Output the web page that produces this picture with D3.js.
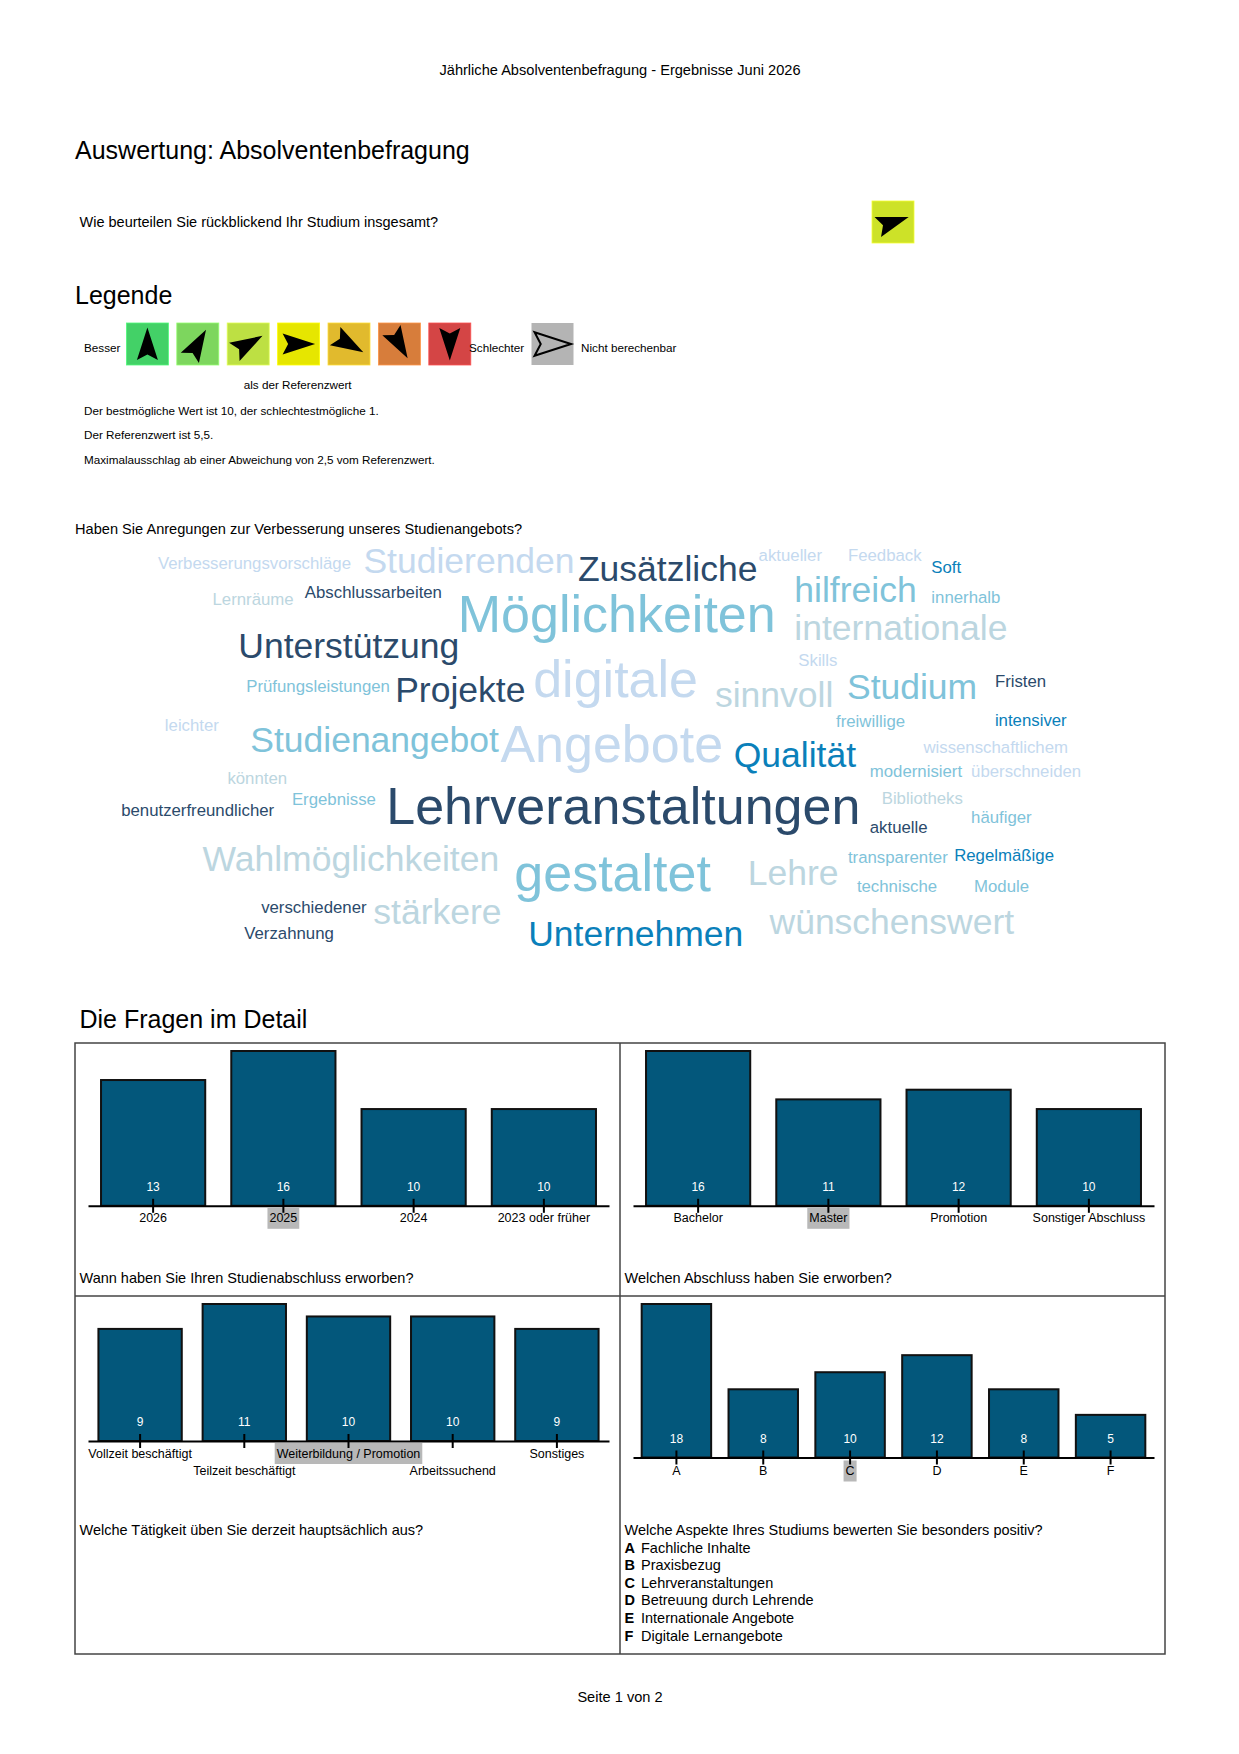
<!DOCTYPE html>
<html lang="de">
<head>
<meta charset="utf-8">
<title>Auswertung: Absolventenbefragung</title>
<script src="https://cdn.jsdelivr.net/npm/d3@7"></script>
<style>
  html, body { margin: 0; padding: 0; background: #fff; }
  svg { display: block; font-family: 'Liberation Sans', Arial, Helvetica, sans-serif; }
</style>
</head>
<body>
<div id="page"></div>
<script>
// ---- Daten ----
const pageTitle = 'Jährliche Absolventenbefragung - Ergebnisse Juni 2026';
const pageFooter = 'Seite 1 von 2';

const overallQuestion = 'Wie beurteilen Sie rückblickend Ihr Studium insgesamt?';
const overallMean = 6.0;

// Legende: Werte der sieben Stufen (Referenz 5,5, Maximalausschlag 2,5)
const legendValues = [8, 7.17, 6.33, 5.5, 4.67, 3.83, 3];
const legendColors = ['#43d167', '#7dd65e', '#bde043', '#e6e600', '#e1ba2d', '#d77d3b', '#d44545'];
const legendNotes = [
  'Der bestmögliche Wert ist 10, der schlechtestmögliche 1.',
  'Der Referenzwert ist 5,5.',
  'Maximalausschlag ab einer Abweichung von 2,5 vom Referenzwert.'
];

// Wortwolke
const cloudQuestion = 'Haben Sie Anregungen zur Verbesserung unseres Studienangebots?';
const cloudWords = [
  'Verbesserungsvorschläge', 'Studierenden', 'Zusätzliche', 'aktueller', 'Feedback', 'Soft',
  'Lernräume', 'Abschlussarbeiten', 'Möglichkeiten', 'hilfreich', 'innerhalb', 'internationale',
  'Unterstützung', 'Skills', 'Prüfungsleistungen', 'Projekte', 'digitale', 'sinnvoll',
  'Studium', 'Fristen', 'leichter', 'freiwillige', 'intensiver', 'Studienangebot',
  'Angebote', 'Qualität', 'wissenschaftlichem', 'könnten', 'modernisiert', 'überschneiden',
  'Ergebnisse', 'Lehrveranstaltungen', 'Bibliotheks', 'benutzerfreundlicher', 'häufiger', 'aktuelle',
  'Wahlmöglichkeiten', 'gestaltet', 'Lehre', 'transparenter', 'Regelmäßige', 'technische',
  'Module', 'verschiedener', 'stärkere', 'Verzahnung', 'Unternehmen', 'wünschenswert'
];
const cloudCounts = [
  1, 2, 2, 1, 1, 1,
  1, 1, 3, 2, 1, 2,
  2, 1, 1, 2, 3, 2,
  2, 1, 1, 1, 1, 2,
  3, 2, 1, 1, 1, 1,
  1, 3, 1, 1, 1, 1,
  2, 3, 2, 1, 1, 1,
  1, 1, 2, 1, 2, 2
];
const cloudTone = [
  2, 2, 0, 2, 2, 4,
  3, 0, 1, 1, 1, 3,
  0, 2, 1, 0, 2, 3,
  1, 0, 2, 1, 4, 1,
  2, 4, 2, 3, 1, 2,
  1, 0, 3, 0, 1, 0,
  3, 1, 3, 1, 4, 1,
  1, 0, 3, 0, 4, 3
];
// Platzierung der Wörter in der Wolke (relativ, 0..1)
const cloudSpots = [
  [0.059, 0.056], [0.266, 0.050], [0.482, 0.069], [0.664, 0.037], [0.754, 0.037], [0.838, 0.066],
  [0.114, 0.141], [0.207, 0.125], [0.361, 0.176], [0.700, 0.120], [0.838, 0.136], [0.700, 0.210],
  [0.140, 0.253], [0.704, 0.288], [0.148, 0.349], [0.298, 0.357], [0.437, 0.330], [0.620, 0.368],
  [0.753, 0.349], [0.902, 0.338], [0.066, 0.442], [0.742, 0.432], [0.902, 0.429], [0.152, 0.477],
  [0.404, 0.485], [0.639, 0.512], [0.830, 0.493], [0.129, 0.568], [0.776, 0.552], [0.878, 0.552],
  [0.194, 0.618], [0.289, 0.634], [0.788, 0.616], [0.022, 0.645], [0.878, 0.661], [0.776, 0.685],
  [0.104, 0.760], [0.418, 0.794], [0.653, 0.794], [0.754, 0.757], [0.861, 0.752], [0.763, 0.826],
  [0.881, 0.826], [0.163, 0.874], [0.276, 0.885], [0.146, 0.938], [0.432, 0.938], [0.675, 0.909]
];

// Fragen im Detail
const q1Question = 'Wann haben Sie Ihren Studienabschluss erworben?';
const q1Categories = ['2026', '2025', '2024', '2023 oder früher'];
const q1Counts = [13, 16, 10, 10];
const q1Marked = '2025';

const q2Question = 'Welchen Abschluss haben Sie erworben?';
const q2Categories = ['Bachelor', 'Master', 'Promotion', 'Sonstiger Abschluss'];
const q2Counts = [16, 11, 12, 10];
const q2Marked = 'Master';

const q3Question = 'Welche Tätigkeit üben Sie derzeit hauptsächlich aus?';
const q3Categories = ['Vollzeit beschäftigt', 'Teilzeit beschäftigt', 'Weiterbildung / Promotion', 'Arbeitssuchend', 'Sonstiges'];
const q3Counts = [9, 11, 10, 10, 9];
const q3Marked = 'Weiterbildung / Promotion';

const q4Question = 'Welche Aspekte Ihres Studiums bewerten Sie besonders positiv?';
const q4Categories = ['A', 'B', 'C', 'D', 'E', 'F'];
const q4Counts = [18, 8, 10, 12, 8, 5];
const q4Marked = 'C';
const q4Labels = ['Fachliche Inhalte', 'Praxisbezug', 'Lehrveranstaltungen', 'Betreuung durch Lehrende', 'Internationale Angebote', 'Digitale Lernangebote'];

// ---- Zeichnen ----
const W = 1239, H = 1754;
const svg = d3.select('#page').append('svg')
  .attr('width', W).attr('height', H)
  .attr('viewBox', `0 0 ${W} ${H}`);

function addText(parent, x, y, txt, size, anchor = 'start') {
  return parent.append('text')
    .attr('x', x).attr('y', y)
    .attr('dominant-baseline', 'central')
    .attr('text-anchor', anchor)
    .attr('font-size', size)
    .attr('fill', '#000')
    .text(txt);
}

// Kopf
addText(svg, 620, 69.5, pageTitle, 14.6, 'middle');
addText(svg, 75, 150, 'Auswertung: Absolventenbefragung', 25);
addText(svg, 79.5, 222, overallQuestion, 14.5);

// Pfeil-Symbol (Spitze nach oben, Kerbe unten)
const arrowPath = 'M0,-16.5 L10.5,16 L0,10.5 L-10.5,16 Z';
const angleScale = d3.scaleLinear().domain([3, 8]).range([180, 0]).clamp(true);
const colorScale = d3.scaleLinear().domain(legendValues).range(legendColors).clamp(true);
const iconSize = 42;

function icon(parent, x, y, value) {
  const g = parent.append('g').attr('transform', `translate(${x},${y})`);
  g.append('rect')
    .attr('width', iconSize).attr('height', iconSize)
    .attr('fill', colorScale(value))
    .attr('stroke', d3.color(colorScale(value)).brighter(0.5))
    .attr('stroke-width', 0.8);
  g.append('path')
    .attr('d', arrowPath)
    .attr('transform', `translate(${iconSize / 2},${iconSize / 2}) rotate(${angleScale(value)})`)
    .attr('fill', '#000');
  return g;
}

icon(svg, 872, 201, overallMean);

// Legende
addText(svg, 75, 295, 'Legende', 25);
const legendG = svg.append('g');
addText(legendG, 84, 347, 'Besser', 11.7);
const legendX = d3.scaleBand().domain(d3.range(legendValues.length)).range([126.4, 126.4 + 50.4 * legendValues.length]);
legendValues.forEach((v, i) => icon(legendG, legendX(i), 323, v));
addText(legendG, 469, 347, 'Schlechter', 11.7);
const naG = legendG.append('g').attr('transform', 'translate(531.5,323)');
naG.append('rect').attr('width', iconSize).attr('height', iconSize).attr('fill', '#b4b4b4');
naG.append('path')
  .attr('d', arrowPath)
  .attr('transform', `translate(${iconSize / 2},${iconSize / 2}) rotate(90) scale(1.12)`)
  .attr('fill', 'none').attr('stroke', '#000').attr('stroke-width', 1.8);
addText(legendG, 581, 347, 'Nicht berechenbar', 11.7);
addText(legendG, 297.7, 384.5, 'als der Referenzwert', 11.7, 'middle');
legendNotes.forEach((t, i) => addText(legendG, 84, 410 + i * 24.6, t, 11.7));

// Wortwolke
addText(svg, 75, 529, cloudQuestion, 14.6);
const cloudX = d3.scaleLinear().domain([0, 1]).range([99.3, 1092.2]);
const cloudY = d3.scaleLinear().domain([0, 1]).range([540, 960]);
const cloudSize = d3.scaleLinear().domain([1, 2, 3]).range([16.8, 35.5, 52]);
const cloudColor = d3.scaleOrdinal().domain([0, 1, 2, 3, 4])
  .range(['#2b4a6b', '#7fc3da', '#c4d9ef', '#bcd6e0', '#0a80ba']);

svg.append('g').attr('class', 'cloud')
  .selectAll('text')
  .data(cloudWords.map((w, i) => ({ word: w, count: cloudCounts[i], tone: cloudTone[i], spot: cloudSpots[i] })))
  .join('text')
  .attr('x', d => cloudX(d.spot[0]))
  .attr('y', d => cloudY(d.spot[1]))
  .attr('dominant-baseline', 'central')
  .attr('font-size', d => cloudSize(d.count))
  .attr('fill', d => cloudColor(d.tone))
  .text(d => d.word);

// Fragen im Detail
addText(svg, 79.5, 1019, 'Die Fragen im Detail', 25);

const gridX = [75, 620, 1165];
const gridY = [1043, 1296, 1654];
const grid = svg.append('g').attr('fill', 'none').attr('stroke', '#444').attr('stroke-width', 1.5);
grid.append('rect').attr('x', gridX[0]).attr('y', gridY[0])
  .attr('width', gridX[2] - gridX[0]).attr('height', gridY[2] - gridY[0]);
grid.append('line').attr('x1', gridX[1]).attr('x2', gridX[1]).attr('y1', gridY[0]).attr('y2', gridY[2]);
grid.append('line').attr('x1', gridX[0]).attr('x2', gridX[2]).attr('y1', gridY[1]).attr('y2', gridY[1]);

function drawPanel(cx, cy, cw, categories, counts, marked, question, opt) {
  const g = svg.append('g').attr('transform', `translate(${cx},${cy})`);
  const base = opt.baseline;

  const x = d3.scaleBand().domain(categories).range([13, cw - 11])
    .paddingInner(0.2).paddingOuter(0.1);
  const y = d3.scaleLinear().domain([0, d3.max(counts)]).range([base, 8]);

  g.selectAll('.bar')
    .data(categories.map((c, i) => ({ c, v: counts[i] })))
    .join('rect')
    .attr('class', 'bar')
    .attr('x', d => x(d.c))
    .attr('y', d => y(d.v))
    .attr('width', x.bandwidth())
    .attr('height', d => base - y(d.v))
    .attr('fill', '#03577b')
    .attr('stroke', '#111')
    .attr('stroke-width', 2);

  const axis = g.append('g')
    .attr('transform', `translate(0,${base})`)
    .call(d3.axisBottom(x).tickSizeOuter(0).tickSizeInner(7));
  axis.attr('font-family', null).attr('font-size', null);
  axis.select('.domain').attr('stroke', '#000').attr('stroke-width', 2);
  axis.selectAll('.tick').each(function (d, i) {
    const t = d3.select(this);
    t.select('line').attr('y1', -7).attr('y2', 7).attr('stroke', '#000').attr('stroke-width', 2);
    // bei langen Beschriftungen jede zweite eine Zeile tiefer
    const ty = opt.labelY + (opt.stagger && i % 2 === 1 ? 17 : 0);
    const txt = t.select('text')
      .attr('y', ty).attr('dy', null)
      .attr('dominant-baseline', 'central')
      .attr('font-size', 12.5)
      .attr('fill', '#000');
    if (d === marked) {
      const len = txt.node().getComputedTextLength();
      t.insert('rect', ':first-child')
        .attr('x', -len / 2 - 2).attr('y', ty - 10.5)
        .attr('width', len + 4).attr('height', 21)
        .attr('fill', '#b8b8b8');
    }
  });

  g.selectAll('.val')
    .data(categories.map((c, i) => ({ c, v: counts[i] })))
    .join('text')
    .attr('class', 'val')
    .attr('x', d => x(d.c) + x.bandwidth() / 2)
    .attr('y', base - 19)
    .attr('text-anchor', 'middle')
    .attr('dominant-baseline', 'central')
    .attr('font-size', 12)
    .attr('fill', '#fff')
    .text(d => d.v);

  addText(g, 4.5, opt.questionY, question, 14.5);
  return g;
}

drawPanel(gridX[0], gridY[0], gridX[1] - gridX[0], q1Categories, q1Counts, q1Marked, q1Question,
  { baseline: 162.8, labelY: 12.5, questionY: 234.5 });
drawPanel(gridX[1], gridY[0], gridX[2] - gridX[1], q2Categories, q2Counts, q2Marked, q2Question,
  { baseline: 162.8, labelY: 12.5, questionY: 234.5 });
drawPanel(gridX[0], gridY[1], gridX[1] - gridX[0], q3Categories, q3Counts, q3Marked, q3Question,
  { baseline: 145, labelY: 12.5, questionY: 234, stagger: true });
const p4 = drawPanel(gridX[1], gridY[1], gridX[2] - gridX[1], q4Categories, q4Counts, q4Marked, q4Question,
  { baseline: 161.5, labelY: 13.5, questionY: 234 });

// Legende der Aspekte
const listG = p4.append('g');
q4Categories.forEach((c, i) => {
  const t = listG.append('text')
    .attr('y', 251.5 + i * 17.6)
    .attr('dominant-baseline', 'central')
    .attr('font-size', 14.5)
    .attr('fill', '#000');
  t.append('tspan').attr('x', 4.5).attr('font-weight', 'bold').text(c);
  t.append('tspan').attr('x', 21).text(q4Labels[i]);
});

// Fußzeile
addText(svg, 620, 1697, pageFooter, 14.6, 'middle');
</script>
</body>
</html>
